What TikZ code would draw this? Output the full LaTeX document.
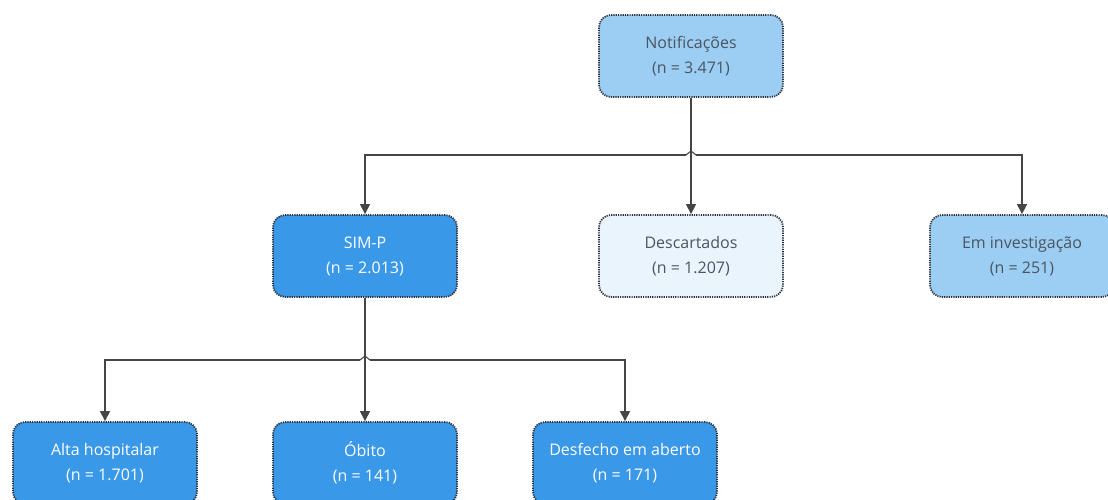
\documentclass[tikz,border=0pt]{standalone}
\usepackage{fontspec}
\setmainfont{Open Sans}
\usetikzlibrary{arrows.meta,positioning}
\definecolor{lightblue}{HTML}{9CCDF3}
\definecolor{midblue}{HTML}{3A98E8}
\definecolor{paleblue}{HTML}{EAF4FD}
\definecolor{bordercol}{HTML}{2B3440}
\definecolor{txtdark}{HTML}{4A5560}
\definecolor{linecol}{HTML}{454545}
\tikzset{
  box/.style={draw=bordercol, line width=1.8pt, dash pattern=on 1.2pt off 1.1pt,
    rounded corners=12pt, minimum width=184pt, minimum height=82pt,
    align=center, inner sep=0pt, font=\fontsize{16}{25}\selectfont},
  boxlight/.style={box, fill=lightblue, text=txtdark},
  boxdark/.style={box, fill=midblue, text=white},
  boxpale/.style={box, fill=paleblue, text=txtdark},
  conn/.style={draw=linecol, line width=1.1pt},
  arr/.style={conn, -{Triangle[length=10pt,width=10pt]}},
}
\begin{document}
\begin{tikzpicture}[x=1pt,y=-1pt]
\useasboundingbox[fill=white] (0,0) rectangle (1108,499);
\node[boxlight] (top) at (691,56) {Notificações\\(n = 3.471)};
\node[boxdark] (sim) at (365,256) {SIM-P\\(n = 2.013)};
\node[boxpale] (desc) at (691,256) {Descartados\\(n = 1.207)};
\node[boxlight] (inv) at (1022,256) {Em investigação\\(n = 251)};
\node[boxdark] (alta) at (105,463) {Alta hospitalar\\(n = 1.701)};
\node[boxdark] (obito) at (365,463) {Óbito\\(n = 141)};
\node[boxdark] (desf) at (625,463) {Desfecho em aberto\\(n = 171)};
\coordinate (j1) at (691,155);
\coordinate (j2) at (365,360);
\draw[conn] (top.south) -- (j1);
\draw[arr] ([xshift=-5pt]j1) -| (sim.north);
\draw[arr] ([xshift=5pt]j1) -| (inv.north);
\draw[arr] (j1) -- (desc.north);
\draw[conn] ([xshift=-5pt]j1) -- ([yshift=4pt]j1) -- ([xshift=5pt]j1);
\draw[conn] (sim.south) -- (j2);
\draw[arr] ([xshift=-5pt]j2) -| (alta.north);
\draw[arr] ([xshift=5pt]j2) -| (desf.north);
\draw[arr] (j2) -- (obito.north);
\draw[conn] ([xshift=-5pt]j2) -- ([yshift=4pt]j2) -- ([xshift=5pt]j2);
\end{tikzpicture}
\end{document}
